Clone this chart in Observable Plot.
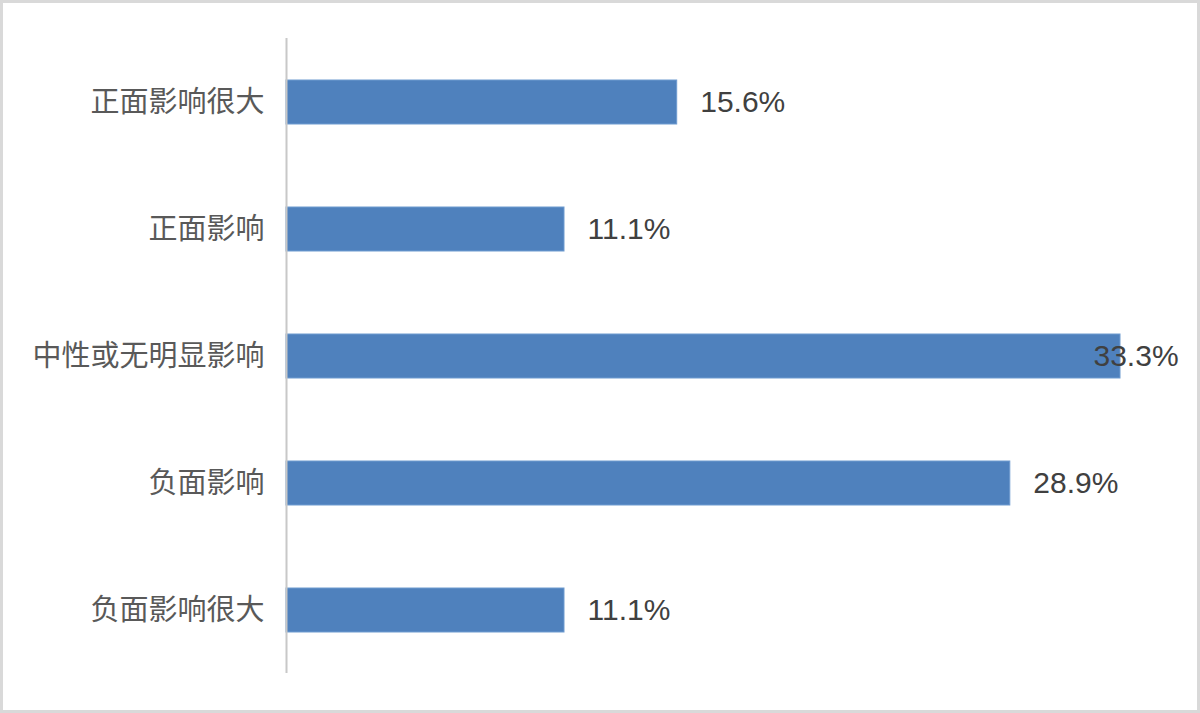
<!DOCTYPE html>
<html><head><meta charset="utf-8">
<script src="https://cdn.jsdelivr.net/npm/d3@7"></script>
<script src="https://cdn.jsdelivr.net/npm/@observablehq/plot@0.6"></script>
<style>
html,body{margin:0;padding:0;background:#fff;}
#chart svg{display:block;outline:3px solid #d9d9d9;outline-offset:-3px;}
</style>
</head><body><div id="chart"></div>
<script>
const categories = ["正面影响很大","正面影响","中性或无明显影响","负面影响","负面影响很大"];
const values = [15.6, 11.1, 33.3, 28.9, 11.1];
const labels = ["15.6%","11.1%","33.3%","28.9%","11.1%"];

const data = categories.map((c, i) => ({category: c, value: values[i], label: labels[i]}));

const chart = Plot.plot({
  width: 1200,
  height: 713,
  marginLeft: 286,
  marginRight: 80,
  marginTop: 38,
  marginBottom: 40,
  style: {background: "#fff"},
  x: {domain: [0, 33.3], axis: null},
  y: {domain: categories, paddingInner: 0.654, paddingOuter: 0.327, align: 0.5, label: null},
  marks: [
    Plot.barX(data, {x: "value", y: "category", fill: "#4f81bd", stroke: "#6f9bd0", strokeWidth: 1}),
    Plot.ruleX([0], {stroke: "#c8c8c8", strokeWidth: 2}),
    Plot.axisY({tickSize: 0, tickPadding: 22, fontSize: 29, fontFamily: "Noto Sans CJK SC", fill: "#595959", label: null}),
    Plot.text(data.filter(d => d.value < 30), {x: "value", y: "category", text: "label", dx: 23, textAnchor: "start",
      fontSize: 30, fontFamily: "Liberation Sans", fill: "#404040"}),
    Plot.text(data.filter(d => d.value >= 30), {x: "value", y: "category", text: "label", dx: -27, textAnchor: "start",
      fontSize: 30, fontFamily: "Liberation Sans", fill: "#404040"})
  ]
});
document.getElementById("chart").append(chart);
</script>
</body></html>
